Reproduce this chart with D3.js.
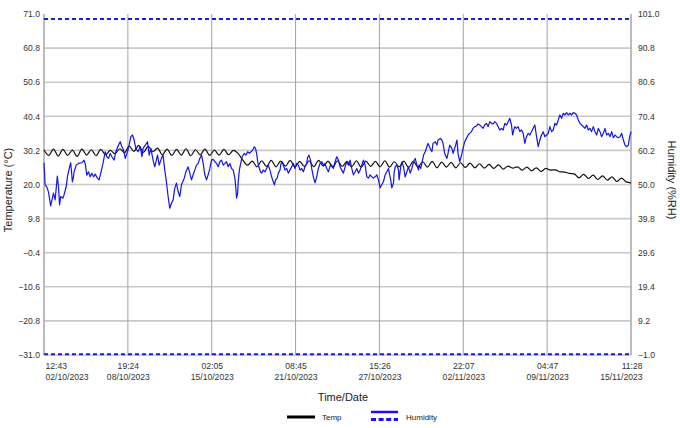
<!DOCTYPE html>
<html><head><meta charset="utf-8">
<script src="https://cdn.jsdelivr.net/npm/d3@7"></script>
<style>
html,body{margin:0;padding:0;background:#fff;}
svg text{font-family:"Liberation Sans",Arial,sans-serif;}
</style></head>
<body>
<svg id="c" width="680" height="428"></svg>
<script>
// ---------- DATA ----------
const timeTickLabels = ["12:43 02/10/2023","19:24 08/10/2023","02:05 15/10/2023","08:45 21/10/2023",
  "15:26 27/10/2023","22:07 02/11/2023","04:47 09/11/2023","11:28 15/11/2023"];
const tempTicks = [-31.0,-20.8,-10.6,-0.4,9.8,20.0,30.2,40.4,50.6,60.8,71.0];
const humTicks  = [-1.0,9.2,19.4,29.6,39.8,50.0,60.2,70.4,80.6,90.8,101.0];
const humidityLimits = [99.5,-0.8];
// temperature, evenly spaced readings over the whole period (°C)
const temperature = [30.4,28.7,30.6,28.5,30.5,28.7,30.3,28.4,30.6,28.8,30.4,28.6,30.5,28.9,30.2,29.2,30.7,29.5,
  31.5,29.9,31.7,29.6,31.4,29.8,30.9,28.9,30.6,28.7,30.5,28.8,30.7,28.6,30.4,28.9,30.6,28.7,30.3,28.8,30.5,28.9,
  30.2,29.3,27.3,25.8,27.0,25.3,27.1,25.4,27.2,25.3,27.0,25.5,27.2,25.2,26.9,25.4,27.1,25.3,27.2,25.5,27.0,25.2,
  27.1,25.4,26.9,25.3,27.1,25.2,27.0,25.4,26.9,25.3,27.1,25.2,26.8,25.3,27.0,25.1,26.9,25.3,26.8,25.2,26.9,25.0,
  26.7,25.2,26.6,25.0,26.5,25.1,26.4,25.0,26.2,24.9,26.0,24.8,25.9,24.6,25.5,24.9,25.3,24.3,25.2,24.1,25.0,23.9,
  24.8,24.3,24.4,23.8,23.7,23.3,23.2,22.0,23.0,21.8,22.8,21.5,22.6,21.3,22.3,20.9,21.9,20.8,20.5];
// humidity readings: [hours since first reading, %RH]
const humidity = [[0,56.5],[2,49.9],[5,49.3],[8,47.8],[12,43.6],[17,47.4],[20,45.4],[23,50.8],[24,52.5],[26,49.3],
[28,43.9],[30,46.4],[34,45.9],[36,46.9],[40,49.4],[42,52.3],[46,55.3],[48,56.5],[51,50.8],[53,52.3],[54,53.8],
[58,55.8],[62,56.3],[68,56.5],[72,57.3],[74,56.3],[77,52.8],[80,53.8],[83,52.3],[86,53.4],[89,52.3],[92,53.1],
[96,51.9],[99,51.4],[102,53.4],[106,56.3],[110,59.8],[113,58.3],[116,57.8],[119,59.3],[122,58.3],[126,57.3],
[129,59.8],[134,61.8],[137,62.8],[140,61.3],[143,60.3],[146,57.8],[150,59.8],[153,61.8],[156,64.3],[159,64.8],
[162,63.3],[165,60.8],[169,59.8],[173,61.3],[176,58.3],[178,60.8],[182,61.8],[186,62.8],[189,58.8],[192,60.8],
[196,57.3],[199,55.3],[204,58.8],[207,55.8],[212,58.3],[214,58.8],[217,54.3],[220,50.8],[223,46.4],[226,42.9],
[229,44.4],[232,45.4],[235,48.9],[238,50.4],[241,47.9],[244,46.4],[247,49.9],[252,51.9],[255,53.8],[259,55.3],
[262,53.4],[265,51.4],[268,52.9],[271,54.3],[274,55.8],[277,56.3],[280,57.8],[283,58.8],[286,56.3],[289,52.9],
[292,51.4],[295,52.9],[298,54.8],[301,57.3],[304,57.5],[307,56.8],[310,56.3],[313,55.3],[316,56.8],[319,57.3],
[322,55.8],[325,56.3],[328,56.8],[331,55.3],[334,56.3],[337,54.8],[340,54.3],[343,51.9],[345,48.4],[346,45.9],
[348,47.4],[349,50.8],[351,54.3],[354,56.8],[356,58.3],[360,59.3],[363,58.8],[366,59.8],[369,59.3],[372,59.8],
[375,60.3],[378,61.3],[380,60.8],[382,59.3],[384,56.8],[386,55.3],[389,53.8],[391,53.4],[394,54.3],[397,53.8],
[400,54.8],[403,55.8],[406,54.3],[409,52.3],[412,50.8],[414,49.9],[416,51.4],[419,51.9],[421,53.4],[424,54.3],
[426,56.3],[428,56.8],[431,55.3],[433,54.3],[436,54.8],[439,53.4],[442,54.3],[445,55.3],[448,56.3],[451,54.8],
[454,56.3],[457,55.8],[460,54.3],[463,54.8],[466,53.8],[469,55.3],[472,56.3],[474,58.3],[476,58.8],[479,57.3],
[481,54.8],[484,52.3],[487,50.5],[490,52.3],[493,54.8],[496,56.3],[499,56.8],[502,55.8],[505,56.3],[508,54.8],
[511,53.8],[514,55.5],[517,55.8],[520,54.8],[523,56.8],[526,58.3],[529,57.3],[532,55.3],[535,54.3],[538,53.4],
[541,55.3],[544,56.8],[547,55.8],[550,57.3],[553,54.8],[556,52.9],[559,53.8],[562,54.8],[565,53.4],[568,54.3],
[571,55.8],[574,57.3],[577,55.8],[580,52.3],[583,51.9],[586,52.9],[589,52.3],[592,51.9],[595,52.3],[598,52.9],
[601,51.4],[604,49.0],[607,50.0],[610,50.9],[613,52.9],[616,53.8],[619,54.8],[620,53.8],[623,51.4],[625,49.0],
[628,50.5],[629,53.4],[631,55.3],[634,55.8],[637,54.3],[638,51.4],[641,55.3],[643,56.8],[646,55.3],[649,52.3],
[652,53.8],[655,55.3],[658,53.4],[661,54.8],[664,56.8],[667,57.8],[670,55.8],[673,54.3],[674,55.8],[677,54.8],
[679,56.3],[682,58.8],[685,59.8],[688,61.3],[690,62.3],[694,60.8],[697,59.8],[699,62.3],[703,62.8],[706,61.8],
[708,63.3],[712,63.8],[715,63.3],[717,62.3],[720,59.3],[724,57.8],[726,59.3],[729,61.8],[733,60.8],[735,59.3],
[738,60.8],[742,63.3],[744,59.3],[747,56.8],[751,59.3],[753,60.8],[756,62.8],[759,63.8],[762,64.8],[765,65.3],
[768,65.8],[771,66.8],[774,67.3],[777,67.5],[780,68.1],[783,67.8],[786,67.3],[789,66.8],[792,67.8],[795,68.3],
[798,67.3],[801,68.8],[804,68.3],[807,68.1],[810,68.8],[813,68.3],[816,67.3],[819,66.3],[822,66.8],[825,66.3],
[828,68.3],[831,67.8],[834,68.8],[837,69.8],[840,67.8],[842,64.8],[844,66.3],[846,67.3],[849,66.8],[852,67.3],
[855,65.8],[858,66.3],[861,65.3],[864,62.3],[867,64.3],[870,65.3],[873,64.8],[876,65.8],[879,66.8],[882,67.8],
[885,64.3],[888,61.3],[891,63.3],[894,64.8],[897,65.8],[900,64.3],[903,64.8],[906,65.3],[909,67.3],[912,65.8],
[915,66.3],[918,68.3],[921,67.8],[924,69.3],[927,70.8],[930,69.8],[933,71.3],[936,70.8],[939,71.5],[942,70.8],
[945,71.3],[948,70.8],[951,71.5],[954,71.3],[957,70.8],[960,69.3],[963,68.3],[966,67.8],[969,67.3],[972,66.8],
[975,67.8],[978,66.3],[981,66.8],[984,65.8],[987,67.3],[990,65.8],[993,64.8],[996,66.8],[999,65.8],[1002,64.3],
[1005,65.3],[1008,66.8],[1011,64.8],[1014,65.3],[1017,64.3],[1020,65.8],[1023,64.0],[1026,64.8],[1029,64.3],
[1032,64.0],[1035,64.3],[1038,65.3],[1041,63.3],[1044,61.8],[1047,61.3],[1050,61.8],[1052,64.0],[1054.7,65.8]];

// ---------- CHART ----------
const svg = d3.select("#c");
const L = 44, R = 631, T = 14, B = 355;
const parse = d3.timeParse("%H:%M %d/%m/%Y");
const tickDates = timeTickLabels.map(parse);
const t0 = tickDates[0], t1 = tickDates[tickDates.length-1];
const x = d3.scaleTime().domain([t0,t1]).range([L,R]);
const yT = d3.scaleLinear().domain([-31,71]).range([B,T]);
const yH = d3.scaleLinear().domain([-1,101]).range([B,T]);

// grid
svg.append("g").selectAll("line").data(tempTicks.slice(0,-1)).join("line")
  .attr("x1",L).attr("x2",R).attr("y1",d=>yT(d)).attr("y2",d=>yT(d))
  .attr("stroke","#c9c9c9").attr("stroke-width",1.6);
svg.append("g").selectAll("line").data(tickDates).join("line")
  .attr("x1",d=>x(d)).attr("x2",d=>x(d)).attr("y1",T).attr("y2",B)
  .attr("stroke","#a3a3a3").attr("stroke-width",1);
svg.append("line").attr("x1",L).attr("x2",L).attr("y1",T).attr("y2",B).attr("stroke","#b5b5b5").attr("stroke-width",1.5);
svg.append("line").attr("x1",R).attr("x2",R).attr("y1",T).attr("y2",B).attr("stroke","#b5b5b5").attr("stroke-width",1.5);

// axes
const fmt1 = d3.format(".1f");
const gl = svg.append("g").attr("transform",`translate(${L},0)`)
  .call(d3.axisLeft(yT).tickValues(tempTicks).tickSize(0).tickPadding(4).tickFormat(fmt1));
const gr = svg.append("g").attr("transform",`translate(${R},0)`)
  .call(d3.axisRight(yH).tickValues(humTicks).tickSize(0).tickPadding(7).tickFormat(fmt1));
const gb = svg.append("g").attr("transform",`translate(0,${B})`)
  .call(d3.axisBottom(x).tickValues(tickDates).tickSize(0).tickPadding(8));
[gl,gr,gb].forEach(g=>{g.select(".domain").remove();
  g.selectAll("text").attr("fill","#333").style("font-size","8.6px").style("font-family","'Liberation Sans',Arial,sans-serif");});
const fT = d3.timeFormat("%H:%M"), fD = d3.timeFormat("%d/%m/%Y");
gb.selectAll(".tick text").each(function(d,i){
  const t = d3.select(this); t.text(null);
  let anchor = "middle", dx = 0;
  if(i===0){anchor="start";dx=1;} else if(i===tickDates.length-1){anchor="end";dx=11;}
  t.attr("text-anchor",anchor);
  t.append("tspan").attr("x",dx).text(fT(d));
  t.append("tspan").attr("x",dx).attr("dy","1.22em").text(fD(d));
});

// humidity limit lines
svg.append("g").selectAll("line").data(humidityLimits).join("line")
  .attr("x1",L).attr("x2",R).attr("y1",d=>yH(d)).attr("y2",d=>yH(d))
  .attr("stroke","#1c1cd6").attr("stroke-width",2).attr("stroke-dasharray","4,3");

// series
const tStep = (t1 - t0)/(temperature.length-1);
const tempLine = d3.line().x((d,i)=>x(new Date(+t0 + i*tStep))).y(d=>yT(d)).curve(d3.curveMonotoneX);
svg.append("path").datum(temperature).attr("d",tempLine).attr("fill","none")
  .attr("stroke","#111").attr("stroke-width",1.2);
const humLine = d3.line().x(d=>x(new Date(+t0 + d[0]*3600e3))).y(d=>yH(d[1]));
svg.append("path").datum(humidity).attr("d",humLine).attr("fill","none")
  .attr("stroke","#1414e6").attr("stroke-width",1.2).attr("stroke-linejoin","round");

// titles
svg.append("text").attr("x",343).attr("y",401).attr("text-anchor","middle")
  .style("font-size","11px").attr("fill","#222").text("Time/Date");
svg.append("text").attr("transform","translate(12,190) rotate(-90)").attr("text-anchor","middle")
  .style("font-size","11px").attr("fill","#222").text("Temperature (°C)");
svg.append("text").attr("transform","translate(668,180) rotate(90)").attr("text-anchor","middle")
  .style("font-size","11px").attr("fill","#222").text("Humidity (%RH)");

// legend
const lg = svg.append("g");
lg.append("line").attr("x1",287).attr("x2",315).attr("y1",417).attr("y2",417).attr("stroke","#000").attr("stroke-width",3);
lg.append("text").attr("x",322).attr("y",420).style("font-size","8px").attr("fill","#222").text("Temp");
lg.append("line").attr("x1",371).attr("x2",398).attr("y1",412).attr("y2",412).attr("stroke","#1414e6").attr("stroke-width",2.5);
lg.append("line").attr("x1",371).attr("x2",398).attr("y1",419.5).attr("y2",419.5).attr("stroke","#1414e6").attr("stroke-width",3).attr("stroke-dasharray","5,2.6");
lg.append("text").attr("x",406).attr("y",420).style("font-size","8px").attr("fill","#222").text("Humidity");
</script>
</body></html>
